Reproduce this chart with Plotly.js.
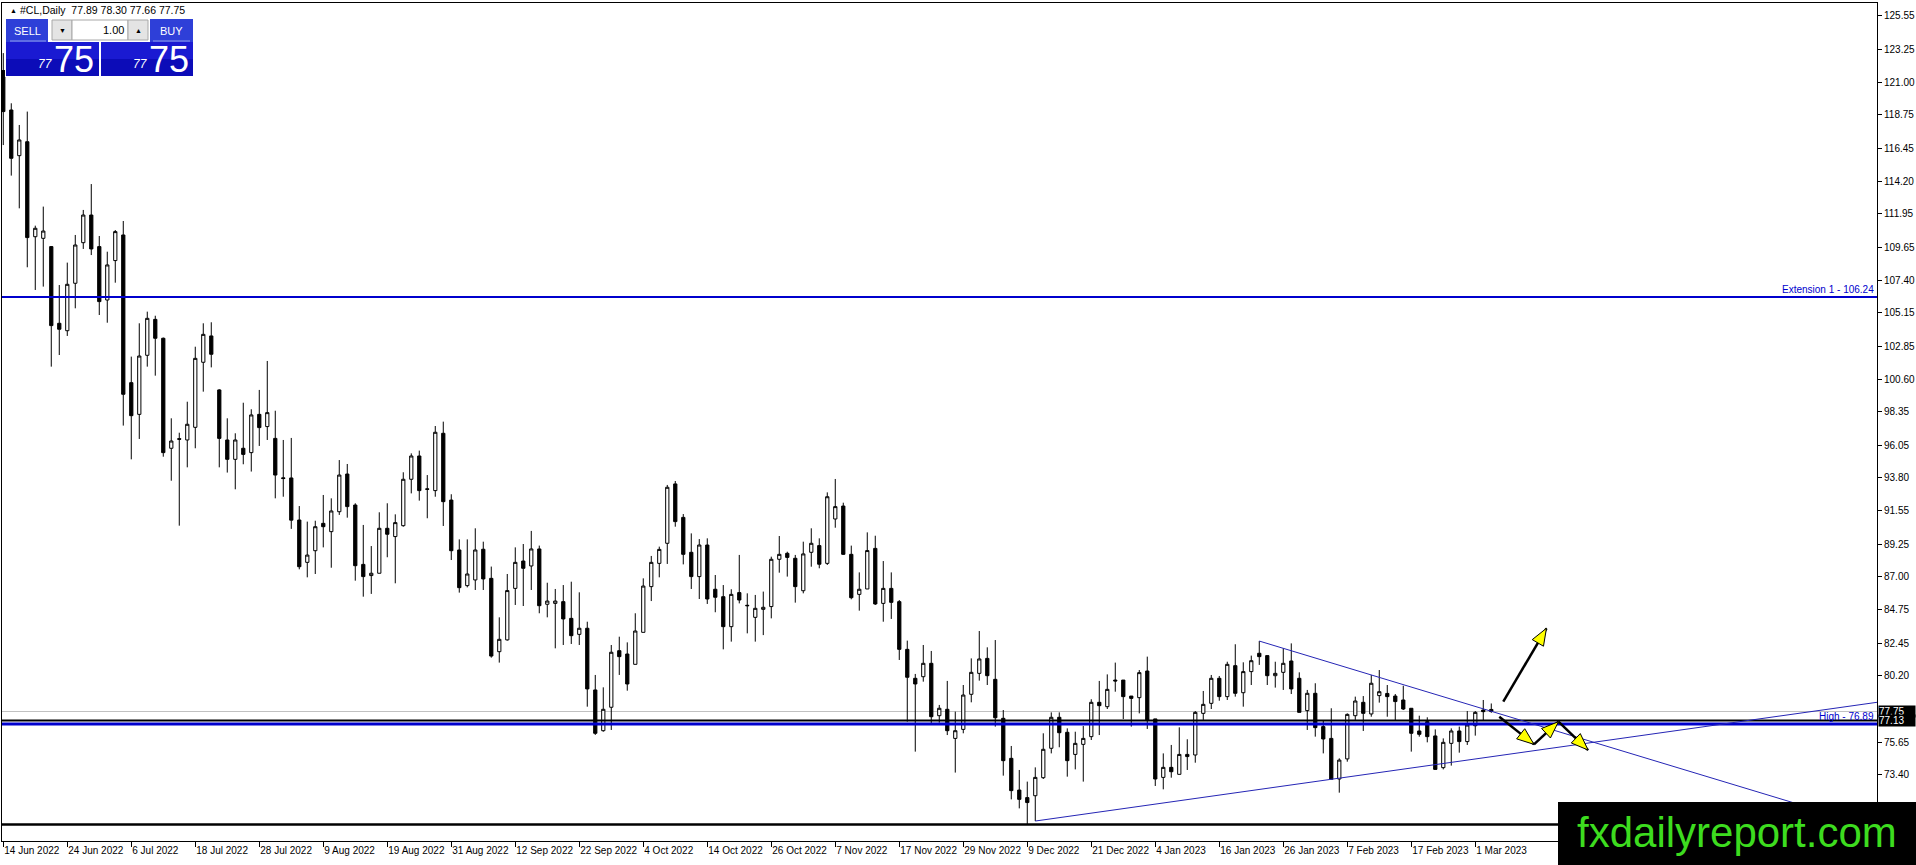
<!DOCTYPE html>
<html><head><meta charset="utf-8">
<script src="https://cdn.plot.ly/plotly-3.0.1.min.js"></script>
<style>html,body{margin:0;padding:0;background:#fff;overflow:hidden}#chart{width:1916px;height:865px}</style>
</head><body><div id="chart"></div>
<script>
// ---------------- DATA ----------------
const dates = [
'2022-06-14','2022-06-15','2022-06-16','2022-06-17','2022-06-20','2022-06-21','2022-06-22','2022-06-23','2022-06-24','2022-06-27','2022-06-28','2022-06-29','2022-06-30',
'2022-07-01','2022-07-04','2022-07-05','2022-07-06','2022-07-07','2022-07-08','2022-07-11','2022-07-12','2022-07-13','2022-07-14','2022-07-15','2022-07-18','2022-07-19','2022-07-20','2022-07-21','2022-07-22','2022-07-25','2022-07-26','2022-07-27','2022-07-28','2022-07-29',
'2022-08-01','2022-08-02','2022-08-03','2022-08-04','2022-08-05','2022-08-08','2022-08-09','2022-08-10','2022-08-11','2022-08-12','2022-08-15','2022-08-16','2022-08-17','2022-08-18','2022-08-19','2022-08-22','2022-08-23','2022-08-24','2022-08-25','2022-08-26','2022-08-29','2022-08-30','2022-08-31',
'2022-09-01','2022-09-02','2022-09-05','2022-09-06','2022-09-07','2022-09-08','2022-09-09','2022-09-12','2022-09-13','2022-09-14','2022-09-15','2022-09-16','2022-09-19','2022-09-20','2022-09-21','2022-09-22','2022-09-23','2022-09-26','2022-09-27','2022-09-28','2022-09-29','2022-09-30',
'2022-10-03','2022-10-04','2022-10-05','2022-10-06','2022-10-07','2022-10-10','2022-10-11','2022-10-12','2022-10-13','2022-10-14','2022-10-17','2022-10-18','2022-10-19','2022-10-20','2022-10-21','2022-10-24','2022-10-25','2022-10-26','2022-10-27','2022-10-28','2022-10-31',
'2022-11-01','2022-11-02','2022-11-03','2022-11-04','2022-11-07','2022-11-08','2022-11-09','2022-11-10','2022-11-11','2022-11-14','2022-11-15','2022-11-16','2022-11-17','2022-11-18','2022-11-21','2022-11-22','2022-11-23','2022-11-24','2022-11-25','2022-11-28','2022-11-29','2022-11-30',
'2022-12-01','2022-12-02','2022-12-05','2022-12-06','2022-12-07','2022-12-08','2022-12-09','2022-12-12','2022-12-13','2022-12-14','2022-12-15','2022-12-16','2022-12-19','2022-12-20','2022-12-21','2022-12-22','2022-12-23','2022-12-27','2022-12-28','2022-12-29','2022-12-30',
'2023-01-03','2023-01-04','2023-01-05','2023-01-06','2023-01-09','2023-01-10','2023-01-11','2023-01-12','2023-01-13','2023-01-16','2023-01-17','2023-01-18','2023-01-19','2023-01-20','2023-01-23','2023-01-24','2023-01-25','2023-01-26','2023-01-27','2023-01-30','2023-01-31',
'2023-02-01','2023-02-02','2023-02-03','2023-02-06','2023-02-07','2023-02-08','2023-02-09','2023-02-10','2023-02-13','2023-02-14','2023-02-15','2023-02-16','2023-02-17','2023-02-20','2023-02-21','2023-02-22','2023-02-23','2023-02-24','2023-02-27','2023-02-28',
'2023-03-01','2023-03-02','2023-03-03'];

const open = [
121.8,119.09,115.95,116.91,110.38,110.27,109.70,104.43,103.92,107.18,
109.97,111.87,109.70,106.03,108.74,110.50,100.35,98.17,102.23,104.70,
103.40,95.84,96.50,96.41,97.28,101.75,103.56,99.85,96.41,95.08,
95.84,95.54,98.17,97.33,96.52,93.81,93.80,90.91,88.00,88.80,
90.68,90.11,91.48,94.07,91.94,87.86,87.09,87.25,90.34,89.77,
90.52,93.71,95.31,93.05,92.93,96.87,92.28,88.85,86.40,86.79,
88.90,86.90,81.86,82.67,86.21,88.09,87.75,88.92,85.12,85.18,
85.30,84.15,83.05,83.47,79.23,76.43,78.04,81.93,81.70,80.99,
83.19,86.33,87.93,89.31,93.39,91.09,88.69,87.02,89.19,86.15,
85.64,83.58,85.92,85.05,84.22,84.77,84.96,88.21,88.62,88.28,
86.05,88.69,89.15,87.93,90.98,91.87,88.55,85.80,86.17,88.96,
85.18,86.21,85.30,82.02,80.03,80.14,81.06,77.46,77.90,75.90,
76.52,78.93,80.37,81.40,79.96,77.28,74.53,72.35,71.83,71.96,
73.20,75.22,77.35,76.32,74.80,75.49,76.02,78.38,78.08,79.91,
79.91,78.81,78.70,80.53,77.24,73.22,73.91,73.43,74.80,74.76,
77.62,78.31,80.03,78.77,80.90,79.04,80.49,81.75,81.59,80.21,
80.44,81.22,80.03,77.81,79.00,76.71,75.90,73.11,74.49,77.46,
78.38,77.58,78.84,78.99,78.81,78.54,77.97,76.41,77.05,76.07,
73.89,75.56,76.41,75.68,76.77,77.85,77.89];

const high = [
123.0,119.55,118.06,118.98,111.14,112.45,109.74,107.06,108.60,110.50,
112.22,114.00,110.43,109.35,110.84,111.46,102.14,104.43,105.23,104.95,
103.45,97.90,96.91,99.04,102.82,104.43,104.50,99.90,97.90,96.87,
98.97,98.52,99.85,101.84,98.42,96.41,96.55,91.87,90.80,90.86,
92.63,92.40,95.03,94.76,92.06,90.57,89.12,91.44,92.06,91.30,
94.19,95.49,95.68,94.00,97.37,97.67,92.68,89.58,89.58,90.34,
89.42,87.71,84.22,87.20,89.03,89.26,90.16,89.15,86.60,86.17,
86.44,86.67,85.94,83.92,80.26,79.41,82.32,82.89,82.50,84.50,
86.90,88.44,89.08,93.32,93.59,91.32,89.99,89.60,89.65,87.13,
86.44,86.15,88.51,85.87,85.76,85.99,88.39,89.81,88.73,88.51,
89.42,90.34,89.65,92.81,93.73,92.10,89.15,87.31,90.06,89.83,
88.09,87.31,85.41,82.62,80.33,82.32,81.91,78.20,79.85,77.74,
79.57,81.40,83.28,82.16,82.66,77.85,75.38,73.73,72.93,73.91,
76.25,77.69,77.69,76.59,76.36,76.75,78.59,79.85,80.30,81.11,
79.91,78.81,80.60,81.52,77.24,74.87,75.45,76.66,75.84,77.78,
79.16,80.26,80.19,81.17,82.37,81.13,81.59,82.59,81.59,81.17,
82.09,82.43,80.44,79.23,79.69,77.16,77.97,74.53,77.62,78.77,
78.81,80.26,80.60,79.57,78.95,79.52,77.97,77.46,77.35,76.52,
75.90,76.59,76.71,77.78,77.78,78.54,78.30];

const low = [
116.68,114.58,112.33,108.28,106.72,106.95,101.45,102.25,103.56,105.46,
109.54,109.12,105.00,104.47,107.22,97.40,95.08,96.48,101.45,100.83,
95.26,93.61,90.52,94.53,95.84,99.73,101.40,94.53,94.17,93.02,
94.74,94.24,96.00,96.41,92.40,92.51,90.30,87.52,86.97,87.20,
89.03,87.63,91.26,91.07,86.74,85.64,85.83,87.25,88.35,86.56,
90.45,92.74,92.24,91.03,92.51,90.50,88.16,85.92,86.28,86.10,
86.10,81.45,81.11,82.62,85.07,85.00,86.10,84.50,84.22,82.09,
82.32,82.39,82.32,78.08,76.14,76.36,76.48,80.26,79.18,80.99,
83.19,85.34,86.97,87.89,90.45,87.86,86.17,85.48,85.14,84.57,
82.02,82.55,85.18,83.12,82.55,83.00,84.15,87.29,87.02,85.23,
85.87,87.70,87.59,87.82,90.38,88.51,85.46,84.68,86.17,85.07,
83.92,84.11,81.29,77.05,74.99,79.80,76.82,76.98,76.13,73.55,
76.25,78.38,79.87,79.57,76.71,73.34,71.71,71.09,69.99,70.22,
73.11,74.87,75.29,73.27,73.77,72.93,75.79,76.13,77.92,79.11,
77.23,76.71,77.62,76.55,72.63,72.40,73.20,73.43,73.73,74.23,
77.17,77.92,78.49,78.54,78.77,78.08,79.57,80.95,79.57,79.39,
79.23,78.95,77.69,76.48,76.02,74.87,73.09,72.17,74.30,77.17,
76.41,77.39,78.36,77.39,77.16,77.85,74.99,76.02,75.63,73.77,
73.77,74.03,74.92,75.45,76.09,77.16,77.66];

const close = [
118.98,115.77,117.03,110.32,110.96,110.77,104.27,104.02,107.11,109.81,
111.87,109.54,105.92,108.44,110.73,99.55,98.08,102.18,104.77,103.40,
95.54,96.34,96.46,97.49,102.02,103.67,102.30,96.52,95.08,96.41,
95.42,98.13,97.26,98.29,94.00,93.76,90.90,87.70,88.50,90.45,
90.45,91.53,94.00,91.83,87.77,87.02,87.25,90.34,89.93,90.73,
93.71,95.31,92.93,93.02,96.94,92.17,88.80,86.26,87.20,88.85,
86.86,81.56,82.71,86.06,88.00,87.59,88.92,85.02,85.34,85.34,
84.11,82.96,83.47,79.30,76.25,77.90,81.82,81.52,79.64,83.28,
86.37,88.00,88.89,93.16,90.80,88.55,87.02,89.19,85.48,85.60,
83.58,85.80,85.41,85.02,84.84,84.91,88.21,88.55,88.34,86.33,
88.58,89.31,87.87,92.51,91.83,88.55,85.57,86.15,88.81,85.14,
86.21,85.25,82.02,80.10,79.64,81.06,77.39,77.97,76.43,76.43,
78.88,80.44,81.36,80.21,77.32,74.37,72.31,71.71,71.49,73.22,
75.15,77.35,76.29,74.37,75.56,75.90,78.38,78.15,79.27,79.85,
78.77,78.65,80.42,77.17,73.11,73.91,73.61,74.80,74.65,77.69,
78.24,80.03,78.77,80.99,79.00,80.49,81.24,81.52,80.21,80.37,
81.06,79.30,77.69,79.00,76.64,75.86,73.09,74.41,77.55,78.47,
77.62,79.69,79.11,78.77,78.43,77.92,76.25,76.18,76.02,73.77,
75.63,76.41,75.68,76.82,77.69,77.74,77.75];

const tickDates = ['2022-06-14','2022-06-24','2022-07-06','2022-07-18','2022-07-28','2022-08-09','2022-08-19','2022-08-31','2022-09-12','2022-09-22','2022-10-04','2022-10-14','2022-10-26','2022-11-07','2022-11-17','2022-11-29','2022-12-09','2022-12-21','2023-01-04','2023-01-16','2023-01-26','2023-02-07','2023-02-17','2023-03-01'];
const tickLabels = ['14 Jun 2022','24 Jun 2022','6 Jul 2022','18 Jul 2022','28 Jul 2022','9 Aug 2022','19 Aug 2022','31 Aug 2022','12 Sep 2022','22 Sep 2022','4 Oct 2022','14 Oct 2022','26 Oct 2022','7 Nov 2022','17 Nov 2022','29 Nov 2022','9 Dec 2022','21 Dec 2022','4 Jan 2023','16 Jan 2023','26 Jan 2023','7 Feb 2023','17 Feb 2023','1 Mar 2023'];
const priceTicks = [125.55,123.25,121.00,118.75,116.45,114.20,111.95,109.65,107.40,105.15,102.85,100.60,98.35,96.05,93.80,91.55,89.25,87.00,84.75,82.45,80.20,75.65,73.40];

const symbol = '#CL,Daily';
const quote = [77.89, 78.30, 77.66, 77.75];   // O H L C of current bar
const lotSize = 1.00;
const bidPrice = 77.75;
const extensionLevel = 106.24;
const highLevel = 76.89;
const blackLevel = 77.13;
const lowLevel = 69.98;
// trend line anchors (bar index)
const downTrendBars = [157, 171];
const upTrendBars = [129, 166];
// hand-drawn scenario arrows [barIndex, price]
const arrowUp = [[187.5, 78.42], [192.9, 83.47]];
const zigzag = [[187.0, 77.39], [191.34, 75.49], [194.4, 77.05], [198.1, 75.10]];

// ---------------- LAYOUT ----------------
const W = 1916, H = 865;
const M = {l: 2, r: 39, t: 3, b: 24};
const plotW = W - M.l - M.r, plotH = H - M.t - M.b;
const xRange = [-0.16, -0.16 + plotW / 8];
const yRange = [126.443 - plotH / 14.55, 126.443];
const pxPerX = plotW / (xRange[1] - xRange[0]);
const pxPerY = plotH / (yRange[1] - yRange[0]);
const PX = px => (px - M.l) / plotW;
const PY = py => 1 - (py - M.t) / plotH;
const FONT = 'Liberation Sans, Arial, sans-serif';

const shapes = [];
const annotations = [];

function hline(y, color, width, layer) {
  shapes.push({type: 'line', xref: 'paper', x0: 0, x1: 1, yref: 'y', y0: y, y1: y,
               line: {color, width}, layer: layer || 'above'});
}
hline(bidPrice, '#c0c0c0', 1, 'below');
hline(extensionLevel, '#0000cd', 2);
hline(highLevel, '#0000cd', 3);
hline(blackLevel, '#000000', 2);
hline(lowLevel, '#000000', 2.5);

function ray(i0, p0, i1, p1) {
  const slope = (p1 - p0) / (i1 - i0);
  const xe = xRange[1];
  shapes.push({type: 'line', xref: 'x', yref: 'y', x0: i0, y0: p0, x1: xe, y1: p0 + slope * (xe - i0),
               line: {color: '#2525b5', width: 1}});
}
ray(downTrendBars[0], high[downTrendBars[0]], downTrendBars[1], high[downTrendBars[1]]);
ray(upTrendBars[0], low[upTrendBars[0]], upTrendBars[1], low[upTrendBars[1]]);

function shaft(a, b) {
  shapes.push({type: 'line', xref: 'x', yref: 'y', x0: a[0], y0: a[1], x1: b[0], y1: b[1],
               line: {color: '#000', width: 2.5}});
}
function head(a, b, L, Wd) {
  const dx = (b[0] - a[0]) * pxPerX, dy = (b[1] - a[1]) * pxPerY;
  const len = Math.hypot(dx, dy), ux = dx / len, uy = dy / len;
  const bx = -ux * L, by = -uy * L;
  const c1 = [bx - uy * Wd, by + ux * Wd], c2 = [bx + uy * Wd, by - ux * Wd];
  const toD = p => [b[0] + p[0] / pxPerX, b[1] + p[1] / pxPerY];
  const d1 = toD(c1), d2 = toD(c2);
  shapes.push({type: 'path', xref: 'x', yref: 'y',
    path: `M${b[0]},${b[1]} L${d1[0]},${d1[1]} L${d2[0]},${d2[1]} Z`,
    fillcolor: '#ffff00', line: {color: '#000', width: 1}});
}
shaft(arrowUp[0], arrowUp[1]);
head(arrowUp[0], arrowUp[1], 17, 6.5);
for (let k = 0; k < zigzag.length - 1; k++) shaft(zigzag[k], zigzag[k + 1]);
for (let k = 0; k < zigzag.length - 1; k++) head(zigzag[k], zigzag[k + 1], 17, 6.5);

// level labels
annotations.push({xref: 'paper', x: 1, xanchor: 'right', xshift: -1, yref: 'y', y: extensionLevel, yanchor: 'bottom', yshift: 0,
  text: 'Extension 1 - ' + extensionLevel.toFixed(2), showarrow: false, font: {family: FONT, size: 10, color: '#0000cd'}});
annotations.push({xref: 'paper', x: 1, xanchor: 'right', xshift: -1, yref: 'y', y: highLevel, yanchor: 'bottom', yshift: 0,
  text: 'High - ' + highLevel.toFixed(2), showarrow: false, font: {family: FONT, size: 10, color: '#0000cd'}});
// price boxes on axis
[bidPrice, blackLevel].forEach(v => {
  annotations.push({xref: 'paper', x: PX(1878), xanchor: 'left', yref: 'y', y: v, yanchor: 'middle',
    text: v.toFixed(2), showarrow: false, bgcolor: '#000', borderpad: 0, width: 36, align: 'left',
    font: {family: FONT, size: 10, color: '#fff'}});
});

// header line
annotations.push({xref: 'paper', yref: 'paper', x: PX(8), y: PY(10), xanchor: 'left', yanchor: 'middle', showarrow: false,
  text: '▲', font: {family: FONT, size: 7, color: '#000'}});
annotations.push({xref: 'paper', yref: 'paper', x: PX(18), y: PY(10), xanchor: 'left', yanchor: 'middle', showarrow: false,
  text: symbol + '  ' + quote.map(v => v.toFixed(2)).join(' '), font: {family: FONT, size: 10.5, color: '#000'}});

// one-click trading panel
function rectPx(x0, y0, x1, y1, fill, line) {
  shapes.push({type: 'rect', xref: 'paper', yref: 'paper', x0: PX(x0), x1: PX(x1), y0: PY(y1), y1: PY(y0),
    fillcolor: fill, line: line ? {color: line, width: 1} : {width: 0}, layer: 'above'});
}
function textPx(x, y, text, size, color, anchor, extra) {
  annotations.push(Object.assign({xref: 'paper', yref: 'paper', x: PX(x), y: PY(y), xanchor: anchor || 'center', yanchor: 'middle',
    showarrow: false, text, font: {family: FONT, size, color}}, extra || {}));
}
rectPx(5, 18, 194, 77, '#ffffff');
rectPx(6, 19, 48, 42, '#2e3fd8');
rectPx(150, 19, 193, 42, '#2e3fd8');
rectPx(52, 20, 72, 40, '#e4e4e4', '#a8a8a8');
rectPx(72, 20, 128, 40, '#ffffff', '#a8a8a8');
rectPx(128, 20, 148, 40, '#e4e4e4', '#a8a8a8');
rectPx(6, 42, 99, 59, '#1a1ad2');
rectPx(6, 59, 99, 76, '#0c0cb8');
rectPx(101, 42, 193, 59, '#1a1ad2');
rectPx(101, 59, 193, 76, '#0c0cb8');
shapes.push({type: 'line', xref: 'paper', yref: 'paper', x0: PX(10), x1: PX(46), y0: PY(41), y1: PY(41), line: {color: '#8f9cf0', width: 1}});
shapes.push({type: 'line', xref: 'paper', yref: 'paper', x0: PX(153), x1: PX(190), y0: PY(41), y1: PY(41), line: {color: '#8f9cf0', width: 1}});
textPx(27, 31, 'SELL', 11, '#fff');
textPx(171, 31, 'BUY', 11, '#fff');
textPx(62, 30, '▼', 7, '#000');
textPx(138, 30, '▲', 7, '#000');
textPx(126, 30, lotSize.toFixed(2), 11, '#000', 'right');
const bidStr = bidPrice.toFixed(2);
[[36, 52], [131, 147]].forEach(([xs, xb]) => {
  textPx(xs, 64, bidStr.slice(0, 2), 12, '#fff', 'left', {font: {family: FONT, size: 12, color: '#fff', style: 'italic'}});
  textPx(xb, 59, bidStr.slice(3, 5), 36, '#fff', 'left');
});

// logo
rectPx(1558, 802, 1916, 865, '#000000');
textPx(1737, 832, 'fxdailyreport.com', 42, '#3ddc1f');

const trace = {
  type: 'candlestick', x: dates, open, high, low, close,
  increasing: {line: {color: '#000', width: 1}, fillcolor: '#ffffff'},
  decreasing: {line: {color: '#000', width: 1}, fillcolor: '#000000'},
  whiskerwidth: 0, showlegend: false, hoverinfo: 'skip'
};

const layout = {
  width: W, height: H, autosize: false,
  margin: {l: M.l, r: M.r, t: M.t, b: M.b, pad: 0},
  paper_bgcolor: '#fff', plot_bgcolor: '#fff',
  boxgap: 0.42,
  showlegend: false,
  xaxis: {type: 'category', range: xRange, tickvals: tickDates, ticktext: tickLabels,
    ticks: 'outside', ticklen: 5, tickcolor: '#000', tickwidth: 1, tickangle: 0,
    ticklabelposition: 'outside right',
    showgrid: false, zeroline: false, showline: true, linecolor: '#000', linewidth: 1, mirror: true,
    rangeslider: {visible: false}, automargin: false, fixedrange: true,
    tickfont: {family: FONT, size: 10, color: '#000'}},
  yaxis: {side: 'right', range: yRange, tickvals: priceTicks, ticktext: priceTicks.map(v => v.toFixed(2)),
    ticks: 'outside', ticklen: 4, tickcolor: '#000',
    showgrid: false, zeroline: false, showline: true, linecolor: '#000', linewidth: 1, mirror: true,
    automargin: false, fixedrange: true,
    tickfont: {family: FONT, size: 10, color: '#000'}},
  shapes, annotations
};

Plotly.newPlot('chart', [trace], layout, {staticPlot: true, displayModeBar: false});
</script>
</body></html>
